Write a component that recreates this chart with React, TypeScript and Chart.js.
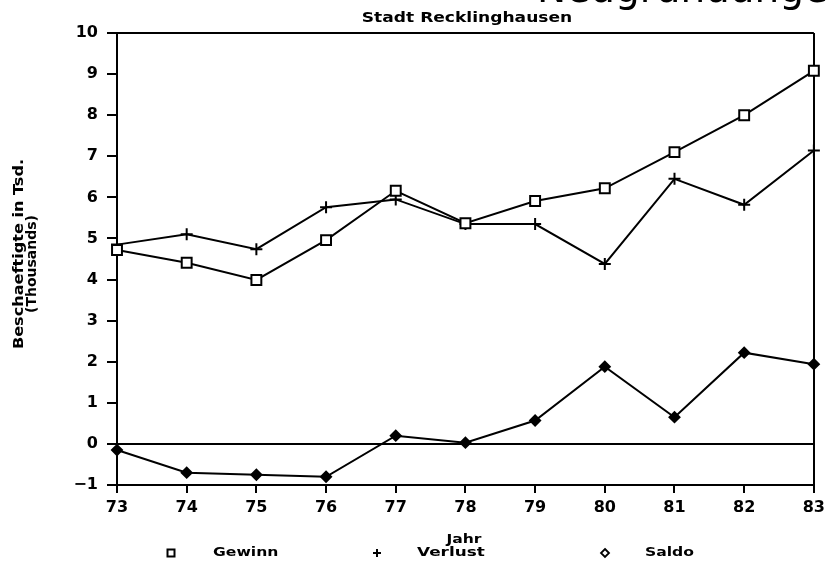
import React, { useEffect, useRef } from "react";
import { Chart, registerables } from "chart.js";

Chart.register(...registerables);

const years = ["73", "74", "75", "76", "77", "78", "79", "80", "81", "82", "83"];
const gewinn = [4.72, 4.41, 3.99, 4.96, 6.16, 5.37, 5.91, 6.22, 7.1, 8.0, 9.08];
const verlust = [4.85, 5.1, 4.74, 5.76, 5.95, 5.35, 5.35, 4.38, 6.45, 5.82, 7.14];
const saldo = [-0.15, -0.7, -0.75, -0.8, 0.2, 0.03, 0.57, 1.88, 0.65, 2.22, 1.94];

const chartTitle = "Stadt Recklinghausen";
const yTitle = ["Beschaeftigte in Tsd.", "(Thousands)"];
const xTitle = "Jahr";
const legendLabels = ["Gewinn", "Verlust", "Saldo"];
const topFragment = "Neugründunge";

const FONT = "'DejaVu Sans', sans-serif";

function stretchedText(
  ctx: CanvasRenderingContext2D,
  text: string,
  x: number,
  y: number,
  size: number,
  sx: number,
  align: CanvasTextAlign
) {
  ctx.save();
  ctx.translate(x, y);
  ctx.scale(sx, 1);
  ctx.font = `bold ${size}px ${FONT}`;
  ctx.textAlign = align;
  ctx.textBaseline = "middle";
  ctx.fillText(text, 0, 0);
  ctx.restore();
}

const decorPlugin = {
  id: "decor",
  afterDraw(chart: any) {
    const ctx = chart.ctx as CanvasRenderingContext2D;
    ctx.save();
    ctx.fillStyle = "#000";
    ctx.strokeStyle = "#000";
    // cut-off caption at the very top (only its lower edge is inside the picture)
    ctx.font = `39px ${FONT}`;
    ctx.textAlign = "left";
    ctx.textBaseline = "alphabetic";
    ctx.fillText(topFragment, 537, 2);
    // title
    stretchedText(ctx, chartTitle, 467, 18, 14, 1.22, "center");
    // y title
    ctx.save();
    ctx.translate(19, 254);
    ctx.rotate(-Math.PI / 2);
    stretchedText(ctx, yTitle[0], 0, 0, 14, 1.15, "center");
    stretchedText(ctx, yTitle[1], -10, 13, 14, 1.0, "center");
    ctx.restore();
    // x title
    stretchedText(ctx, xTitle, 464, 540, 13, 1.2, "center");
    // legend
    const ly = 553;
    ctx.lineWidth = 2;
    ctx.strokeRect(167.5, ly - 3.5, 7, 7);
    ctx.beginPath();
    ctx.moveTo(373, ly);
    ctx.lineTo(381, ly);
    ctx.moveTo(377, ly - 4);
    ctx.lineTo(377, ly + 4);
    ctx.stroke();
    ctx.beginPath();
    ctx.moveTo(605, ly - 4);
    ctx.lineTo(609, ly);
    ctx.lineTo(605, ly + 4);
    ctx.lineTo(601, ly);
    ctx.closePath();
    ctx.lineWidth = 1.8;
    ctx.stroke();
    stretchedText(ctx, legendLabels[0], 213, ly, 13, 1.2, "left");
    stretchedText(ctx, legendLabels[1], 417, ly, 13, 1.3, "left");
    stretchedText(ctx, legendLabels[2], 645, ly, 13, 1.2, "left");
    ctx.restore();
  },
};

export default function App() {
  const ref = useRef<HTMLCanvasElement>(null);
  useEffect(() => {
    if (!ref.current) return;
    const common = {
      borderColor: "#000",
      borderWidth: 2,
      tension: 0,
      clip: false as any,
      pointBorderColor: "#000",
      pointBorderWidth: 2,
    };
    const chart = new Chart(ref.current, {
      type: "line",
      data: {
        labels: years,
        datasets: [
          {
            ...common,
            label: legendLabels[2],
            data: saldo,
            pointStyle: "rectRot",
            pointRadius: 5,
            pointBackgroundColor: "#000",
          },
          {
            ...common,
            label: legendLabels[0],
            data: gewinn,
            pointStyle: "rect",
            pointRadius: 7,
            pointBackgroundColor: "#fff",
          },
          {
            ...common,
            label: legendLabels[1],
            data: verlust,
            pointStyle: "cross",
            pointRadius: 6,
            pointBackgroundColor: "#000",
          },
        ],
      },
      options: {
        animation: false,
        responsive: false,
        devicePixelRatio: 1,
        layout: { padding: { top: 33, right: 12, left: 0, bottom: 0 } },
        plugins: {
          legend: { display: false },
          title: { display: false },
          tooltip: { enabled: false },
        },
        scales: {
          x: {
            offset: false,
            afterFit: (s: any) => {
              s.height = 77;
            },
            border: { color: "#000", width: 2 },
            grid: {
              color: (c: any) => (c.index === years.length - 1 ? "#000" : "rgba(0,0,0,0)"),
              lineWidth: 2,
              tickColor: "#000",
              tickWidth: 2,
              tickLength: 8,
            },
            ticks: {
              color: "#000",
              font: { family: FONT, size: 16, weight: "bold" },
              padding: 5,
              maxRotation: 0,
              autoSkip: false,
            },
          },
          y: {
            min: -1,
            max: 10,
            afterFit: (s: any) => {
              s.width = 117;
            },
            border: { color: "#000", width: 2 },
            grid: {
              color: (c: any) =>
                c.tick && (c.tick.value === 0 || c.tick.value === 10) ? "#000" : "rgba(0,0,0,0)",
              lineWidth: 2,
              tickColor: "#000",
              tickWidth: 2,
              tickLength: 10,
            },
            ticks: {
              stepSize: 1,
              color: "#000",
              font: { family: FONT, size: 16, weight: "bold" },
              padding: 9,
              callback: (v: any) => (Number(v) < 0 ? "\u2212" + Math.abs(Number(v)) : String(v)),
            },
          },
        },
      },
      plugins: [decorPlugin],
    });
    return () => chart.destroy();
  }, []);
  return (
    <div style={{ position: "fixed", left: 0, top: 0, width: 830, height: 562, background: "#fff" }}>
      <canvas ref={ref} width={830} height={562} style={{ width: 830, height: 562 }} />
    </div>
  );
}
